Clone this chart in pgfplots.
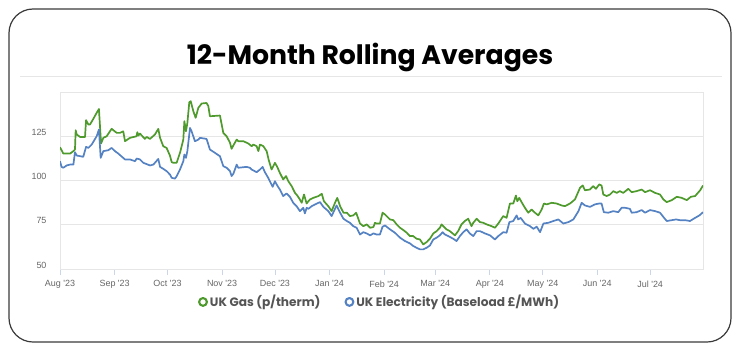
\documentclass[border=0pt]{standalone}
\usepackage{pgfplots}
\pgfplotsset{compat=1.18}
\usepackage{pgfplotstable}
\usepackage{fontspec}
\setmainfont{Poppins}
\newfontfamily\tickfont{Liberation Sans}
\definecolor{gasc}{HTML}{4E9A2C}
\definecolor{elec}{HTML}{5582C2}
\definecolor{gridc}{HTML}{E6E6E6}
\definecolor{tickc}{HTML}{CCD6EB}
\definecolor{labc}{HTML}{666666}
\definecolor{legc}{HTML}{555555}
\definecolor{bordc}{HTML}{3A3A3A}

\pgfplotstableread{
d v
0 118.8
1.9 115.2
3.8 115.2
5.7 115.2
7.6 116.6
8.5 117.5
8.9 128.4
9.5 126.0
11.4 124.6
14.2 124.6
14.8 134.1
16.1 131.6
17.0 131.6
18.9 134.8
20.8 138.2
22.1 140.4
23.3 120.9
24.6 124.1
26.5 125.0
29.3 129.2
30.3 128.4
32.2 126.9
34.1 126.9
35.9 127.8
36.9 122.2
39.7 124.1
43.5 125.0
43.9 127.3
44.5 125.4
45.4 126.5
48.2 123.5
49.2 124.6
51.1 123.5
53.9 126.0
55.8 129.2
56.8 124.1
58.6 119.4
60.5 118.4
62.4 114.1
63.4 110.4
64.3 110.0
66.2 110.0
68.1 115.6
70.0 123.1
70.6 133.5
71.5 127.8
72.3 132.5
73.4 144.2
74.2 144.8
75.7 139.1
77.0 135.4
78.5 141.0
80.4 143.5
83.2 143.8
84.2 142.0
85.1 136.3
90.8 136.7
92.7 126.9
94.6 125.0
96.5 121.3
97.4 117.9
98.4 119.8
100.3 123.1
101.2 122.2
104.1 122.2
106.9 120.9
108.8 119.4
109.7 120.3
111.6 119.4
112.6 116.6
113.5 120.3
115.4 119.4
117.3 116.6
118.5 111.5
120.1 106.2
122.0 110.0
123.3 107.7
124.8 104.3
126.7 100.6
128.3 102.5
129.6 99.6
131.5 96.8
133.4 93.0
134.7 91.5
135.9 89.7
137.2 87.4
138.5 92.1
140.0 87.0
141.0 88.3
141.9 89.3
143.8 90.2
146.7 91.2
148.6 92.5
149.8 88.3
152.3 85.5
154.2 82.7
156.1 87.4
157.4 90.2
159.0 85.5
160.9 81.8
162.8 81.8
164.6 79.9
166.5 80.3
168.1 81.8
170.3 75.7
172.2 74.2
174.1 75.2
176.0 73.3
177.9 73.7
178.8 76.1
179.7 75.7
181.6 75.7
183.1 81.8
184.5 80.8
187.3 78.0
189.2 77.6
191.1 75.2
193.0 73.3
194.9 72.0
196.8 70.5
198.6 68.6
200.5 68.6
202.4 67.1
204.3 66.7
206.2 63.9
208.1 65.2
210.0 67.1
211.9 70.1
213.8 71.4
215.6 73.3
216.6 75.2
217.6 74.2
219.4 72.4
221.3 71.4
224.2 69.0
226.0 71.4
227.9 75.2
229.8 77.1
231.7 78.4
233.6 74.2
234.6 76.1
236.5 78.4
238.4 76.5
240.3 76.1
242.2 75.2
245.0 74.2
246.9 73.3
248.8 75.7
251.6 79.9
253.5 78.9
255.4 87.0
257.3 87.0
258.8 91.5
259.6 88.3
260.7 90.2
262.0 87.8
263.9 84.6
265.8 81.8
267.7 83.6
269.6 81.8
271.5 80.3
273.4 83.6
274.7 87.0
276.2 86.5
279.1 87.4
281.9 87.0
284.8 85.9
286.6 85.5
289.5 87.0
292.3 89.3
295.2 95.9
296.7 97.2
298.0 94.5
300.8 94.9
302.7 96.8
304.2 95.3
306.1 97.8
307.4 97.2
308.4 92.1
310.3 91.2
312.2 92.1
314.1 94.0
316.0 93.0
317.8 94.0
319.7 93.0
322.6 95.3
324.5 93.4
327.3 94.0
330.2 94.9
332.1 93.4
334.9 94.5
337.8 93.0
340.6 92.1
342.5 89.3
344.4 87.8
347.3 88.9
350.1 90.8
352.9 90.2
355.8 88.9
358.1 90.8
360.5 91.2
363.4 94.5
365.0 97.2
}\gasdata

\pgfplotstableread{
d v
0 110.9
0.9 107.7
1.9 107.2
3.8 108.5
5.7 109.0
7.6 109.0
8.5 116.0
9.5 114.1
13.2 113.4
14.8 119.0
16.1 118.4
18.0 120.3
20.8 125.0
22.1 128.8
23.1 112.8
24.6 116.6
27.4 117.1
29.3 118.4
31.2 116.6
33.1 115.2
36.9 111.9
39.7 111.9
42.6 110.9
43.5 112.4
45.4 111.9
47.3 110.0
51.1 108.5
53.0 109.0
55.8 112.2
56.8 107.7
58.6 106.6
60.5 105.3
62.4 103.4
63.4 101.5
65.3 101.1
66.2 102.4
68.1 106.2
70.0 110.9
70.6 114.7
71.5 112.8
72.3 116.6
73.8 129.7
74.7 127.8
76.6 122.2
78.5 123.1
79.5 124.1
83.2 123.5
85.1 117.5
88.0 115.6
90.8 113.7
92.7 108.1
94.6 107.2
96.5 105.3
97.4 102.5
98.4 103.8
100.3 109.0
101.2 107.2
105.9 107.7
107.8 107.2
108.8 106.2
111.6 104.7
113.5 106.2
115.0 107.7
116.3 104.7
118.2 101.5
120.7 96.4
122.0 99.6
123.3 97.2
124.8 94.9
126.7 91.2
128.6 92.7
130.5 90.8
132.4 87.4
134.3 85.5
136.2 82.7
138.1 84.6
139.0 81.4
140.0 84.6
141.0 84.0
142.9 85.5
144.8 86.5
147.6 87.8
149.5 85.1
152.3 82.7
154.2 79.9
156.1 84.0
157.0 85.9
159.0 81.8
160.9 78.4
162.8 77.1
164.6 76.1
166.5 74.2
168.4 73.3
170.3 69.5
172.2 70.8
174.1 70.1
176.0 69.0
177.9 70.1
179.7 69.5
181.6 69.5
183.1 73.9
184.5 74.6
187.3 72.4
190.1 70.5
193.0 67.7
195.8 65.8
198.6 64.5
200.5 63.0
202.4 62.0
204.3 61.1
206.2 61.1
208.1 62.0
210.0 63.3
211.9 66.7
213.8 67.7
215.6 69.0
217.2 70.8
218.5 69.5
220.4 68.6
223.2 67.1
225.1 65.8
227.0 68.6
228.9 70.8
230.8 72.4
232.6 70.1
234.6 68.6
236.5 71.4
238.4 71.4
241.2 70.1
244.1 69.0
246.9 66.7
248.8 68.6
251.6 70.8
253.5 70.5
255.1 76.5
257.3 77.1
259.2 80.3
260.1 78.0
261.5 78.9
263.9 75.7
266.8 74.2
268.7 72.7
270.6 73.9
272.5 70.8
274.4 75.7
277.2 76.1
280.0 77.1
282.9 78.0
285.7 75.7
288.6 76.5
291.4 78.0
294.3 82.7
296.1 87.4
298.0 85.9
300.8 85.1
303.6 86.5
306.1 87.0
307.4 87.0
308.7 82.1
311.2 81.8
314.1 82.7
316.9 82.1
318.8 84.6
320.7 84.6
323.5 84.0
324.5 81.8
327.3 82.1
330.2 83.3
332.1 81.8
334.9 83.3
337.8 82.7
340.6 81.8
342.9 78.9
344.4 77.1
347.3 77.6
349.7 78.0
351.9 77.6
354.8 77.6
357.6 77.1
360.5 78.9
363.0 80.3
365.0 82.1
}\elecdata

\begin{document}
\begin{tikzpicture}[x=1bp,y=1bp]
\useasboundingbox (0,0) rectangle (740,351);
\draw[draw=bordc, line width=1.2bp, rounded corners=24bp] (9,9) rectangle (731,342);
\node[font=\fontsize{26.8}{26.8}\selectfont\bfseries, text=black] at (370,294) {12-Month Rolling Averages};
\draw[gridc, line width=0.8bp] (20,275) -- (722,275);
\begin{axis}[
  at={(60bp,82bp)}, anchor=south west,
  scale only axis, width=643bp, height=177bp,
  xmin=0, xmax=365, ymin=50, ymax=150,
  xtick={0,31,61,92,122,153,184,213,244,274,305,335},
  xticklabels={Aug '23,Sep '23,Oct '23,Nov '23,Dec '23,Jan '24,Feb '24,Mar '24,Apr '24,May '24,Jun '24,Jul '24},
  ytick={50,75,100,125,150},
  yticklabels={50,75,100,125,},
  ymajorgrids,
  grid style={draw=gridc, line width=0.8bp},
  axis line style={draw=gridc, line width=0.8bp},
  xtick pos=bottom,
  tick align=outside,
  major tick length=6bp,
  xtick style={draw=tickc, line width=0.8bp},
  ytick style={draw=none},
  /pgf/number format/assume math mode=true,
  ticklabel style={font=\tickfont\fontsize{9}{9}\selectfont, text=labc},
  yticklabel style={xshift=-4bp, yshift=4bp},
  xticklabel style={yshift=-2bp},
  legend style={at={(0.497,-0.186)}, anchor=center, draw=none, fill=none,
    legend columns=2, font=\bfseries\fontsize{12.2}{12.2}\selectfont, text=legc,
    /tikz/every even column/.append style={column sep=22bp}},
  legend cell align=left,
]
\addplot[gasc, line width=1.7bp, line join=round, legend image code/.code={\draw[gasc, line width=2.1bp] (3bp,0bp) circle (3.9bp);}] table[x=d, y=v] {\gasdata};
\addlegendentry{UK Gas (p/therm)}
\addplot[elec, line width=1.7bp, line join=round, legend image code/.code={\draw[elec, line width=2.1bp] (3bp,0bp) circle (3.9bp);}] table[x=d, y=v] {\elecdata};
\addlegendentry{UK Electricity (Baseload £/MWh)}
\end{axis}
\end{tikzpicture}
\end{document}
